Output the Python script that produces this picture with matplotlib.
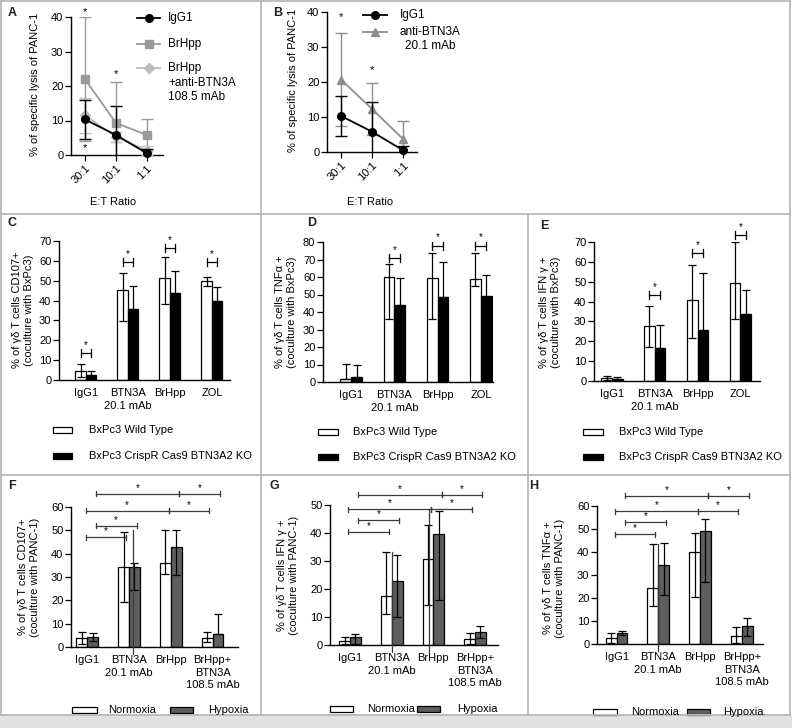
import numpy as np
import matplotlib
matplotlib.use('Agg')
import matplotlib.pyplot as plt
from matplotlib.lines import Line2D
from matplotlib.patches import Rectangle

plt.rcParams['font.family'] = ['Liberation Sans', 'DejaVu Sans']
plt.rcParams['font.size'] = 8
plt.rcParams['axes.linewidth'] = 1.0

# --- data: lysis of PANC-1 (panels A, B) ---
ratios = ['30:1', '10:1', '1:1']
igg1_lysis = [10.3, 5.8, 0.5]
igg1_lysis_sd = [5.7, 8.5, 1.2]
brhpp_lysis = [22.0, 9.3, 5.8]
brhpp_lysis_sd = [18.0, 11.8, 4.6]
brhpp_block_lysis = [11.5, 5.3, 1.3]
brhpp_block_lysis_sd = [5.0, 1.4, 1.3]
anti_btn3a_lysis = [20.7, 12.3, 3.7]
anti_btn3a_lysis_sd = [13.3, 7.3, 5.1]
stars_a = [(0, 41.5), (0, 2.0), (1, 23.5)]
stars_b = [(0, 38.5), (1, 23.5)]

# --- data: coculture with BxPc3 (panels C, D, E) ---
bxpc3_groups = ['IgG1', 'BTN3A\n20.1 mAb', 'BrHpp', 'ZOL']
cd107_wt = [4.5, 45.5, 51.5, 50.0]
cd107_wt_low = [1.5, 29.5, 38.5, 47.5]
cd107_wt_high = [8.0, 54.0, 62.0, 52.0]
cd107_ko = [2.5, 36.0, 44.0, 40.0]
cd107_ko_high = [4.7, 47.5, 54.7, 47.0]
cd107_sig = [13.5, 59.5, 66.5, 59.5]

tnf_wt = [1.5, 60.0, 59.5, 59.0]
tnf_wt_low = [1.5, 36.0, 36.0, 55.0]
tnf_wt_high = [10.3, 67.5, 73.5, 74.0]
tnf_ko = [2.8, 44.0, 48.5, 49.0]
tnf_ko_high = [9.8, 59.5, 68.5, 61.0]
tnf_sig = [None, 71.0, 78.0, 78.0]

ifn_wt = [1.5, 27.5, 41.0, 49.5]
ifn_wt_low = [0.5, 17.0, 21.5, 31.0]
ifn_wt_high = [2.5, 38.0, 58.5, 70.0]
ifn_ko = [1.2, 16.5, 25.5, 33.5]
ifn_ko_high = [2.0, 28.0, 54.5, 46.0]
ifn_sig = [None, 43.5, 64.5, 73.5]

# --- data: coculture with PANC-1, normoxia vs hypoxia (panels F, G, H) ---
panc_groups = ['IgG1', 'BTN3A\n20.1 mAb', 'BrHpp', 'BrHpp+\nBTN3A\n108.5 mAb']
f_norm = [4.0, 34.5, 35.8, 4.0]
f_norm_low = [1.5, 19.5, 31.5, 2.0]
f_norm_high = [6.3, 49.5, 50.0, 6.5]
f_hyp = [4.3, 34.5, 43.0, 5.5]
f_hyp_low = [2.5, 24.5, 31.0, 5.5]
f_hyp_high = [6.0, 36.0, 50.0, 14.3]
f_sig = [47.0, 52.0, 58.3, 58.3, 65.6, 65.6]
f_drops = [(1.1, 50.0)]

g_norm = [1.5, 17.5, 30.8, 2.0]
g_norm_low = [0.3, 11.0, 14.3, 0.5]
g_norm_high = [3.0, 33.3, 42.8, 4.3]
g_hyp = [2.8, 23.0, 39.5, 4.5]
g_hyp_low = [0.3, 10.0, 16.0, 2.5]
g_hyp_high = [4.0, 32.3, 48.0, 6.7]
g_sig = [40.5, 44.6, 48.5, 48.5, 53.6, 53.6]
g_drops = [(1.0, 33.3), (1.9, 48.5)]

h_norm = [2.5, 24.5, 40.0, 3.5]
h_norm_low = [0.5, 16.5, 20.5, 0.5]
h_norm_high = [4.8, 43.5, 48.2, 7.3]
h_hyp = [4.8, 34.5, 49.0, 7.8]
h_hyp_low = [4.0, 21.5, 27.0, 3.5]
h_hyp_high = [5.8, 43.7, 54.2, 11.5]
h_sig = [47.7, 52.9, 57.8, 57.8, 64.5, 64.5]
h_drops = [(1.0, 43.5)]

# bracket spans (group units) shared by F, G, H
bracket_spans = [(-0.04, 0.93), (0.2, 1.18), (-0.04, 1.95), (1.95, 2.92), (0.2, 2.2), (2.2, 3.17)]

W, H = 792, 728
fig = plt.figure(figsize=(W / 100, H / 100), dpi=100)


def fx(px):
    return px / W


def fy(py):
    return 1 - py / H


def px_axes(x0, x1, ytop, ybot):
    return fig.add_axes([fx(x0), fy(ybot), (x1 - x0) / W, (ybot - ytop) / H])


def style(ax, ymax, step):
    for s in ['top', 'right']:
        ax.spines[s].set_visible(False)
    ax.set_ylim(0, ymax)
    ax.set_yticks(np.arange(0, ymax + 1, step))
    ax.tick_params(axis='y', direction='out', length=4, width=0.9, pad=1.5, labelsize=8)
    ax.patch.set_alpha(0)


def ylab(x, y, text):
    fig.text(fx(x), fy(y), text, rotation=90, ha='center', va='center',
             multialignment='center', fontsize=8, linespacing=1.25)


# ---------------- frame lines ----------------
gray = '#b9b9b9'
fig.add_artist(Rectangle((0, 0), 1, 13 / H, transform=fig.transFigure,
                         facecolor='#e2e2e2', edgecolor='none'))
for xs, ys in [((0, 790), (1, 1)), ((0, 790), (214, 214)), ((0, 790), (475, 475)),
               ((0, 790), (715, 715)), ((1, 1), (0, 715)), ((789.5, 789.5), (0, 715)),
               ((261, 261), (0, 715)), ((528, 528), (214, 715))]:
    fig.add_artist(Line2D([fx(xs[0]), fx(xs[1])], [fy(ys[0]), fy(ys[1])],
                          transform=fig.transFigure, color=gray, lw=1.3))

for letter, x, y in [('A', 8, 13), ('B', 273, 13), ('C', 8, 223), ('D', 307, 223),
                     ('E', 540, 226), ('F', 8, 486), ('G', 270, 486), ('H', 529, 486)]:
    fig.text(fx(x), fy(y), letter, fontsize=9, fontweight='bold', va='center', ha='left',
             color='#222222')


# ---------------- line panels ----------------
def line_panel(ax, series, stars, xlim):
    x = np.arange(len(ratios))
    for mean, sd, color, marker, z in series:
        eb = ax.errorbar(x, mean, yerr=sd, color=color, marker=marker, ms=5.5, lw=1.3,
                         capsize=4, capthick=1.0, elinewidth=1.0, zorder=z)
        eb[0].set_clip_on(False)
    for xi, yi in stars:
        ax.text(xi, yi, '*', ha='center', va='center', fontsize=8, clip_on=False)
    ax.set_xlim(*xlim)
    style(ax, 40, 10)
    ax.set_xticks(x)
    ax.set_xticklabels(ratios, rotation=45, ha='right', rotation_mode='anchor')
    ax.tick_params(axis='x', direction='out', length=4, width=0.9, pad=2, labelsize=8)


def line_key(x0, x1, y, color, marker):
    fig.add_artist(Line2D([fx(x0), fx(x1)], [fy(y), fy(y)], transform=fig.transFigure,
                          color=color, lw=1.3))
    fig.add_artist(Line2D([fx((x0 + x1) / 2)], [fy(y)], transform=fig.transFigure,
                          color=color, marker=marker, ms=5.5))


axA = px_axes(71, 163, 17, 155)
line_panel(axA, [(brhpp_lysis, brhpp_lysis_sd, '#9a9a9a', 's', 2),
                 (brhpp_block_lysis, brhpp_block_lysis_sd, '#bdbdbd', 'D', 3),
                 (igg1_lysis, igg1_lysis_sd, 'black', 'o', 4)],
           stars_a, (-0.45, 2.52))
ylab(35, 84, '% of specific lysis of PANC-1')
fig.text(fx(113), fy(202), 'E:T Ratio', ha='center', va='center', fontsize=8)
line_key(137, 160, 18, 'black', 'o')
line_key(137, 160, 44, '#9a9a9a', 's')
line_key(137, 160, 68, '#bdbdbd', 'D')
fig.text(fx(168), fy(18), 'IgG1', va='center', fontsize=8.5)
fig.text(fx(168), fy(44), 'BrHpp', va='center', fontsize=8.5)
fig.text(fx(168), fy(62), 'BrHpp\n+anti-BTN3A\n108.5 mAb', va='top', fontsize=8.5,
         linespacing=1.3)

axB = px_axes(327, 417, 12, 152)
line_panel(axB, [(anti_btn3a_lysis, anti_btn3a_lysis_sd, '#8e8e8e', '^', 2),
                 (igg1_lysis, igg1_lysis_sd, 'black', 'o', 3)],
           stars_b, (-0.45, 2.45))
ylab(293, 80, '% of specific lysis of PANC-1')
fig.text(fx(370), fy(202), 'E:T Ratio', ha='center', va='center', fontsize=8)
line_key(363, 387, 15, 'black', 'o')
line_key(363, 387, 32, '#8e8e8e', '^')
fig.text(fx(400), fy(15), 'IgG1', va='center', fontsize=8.5)
fig.text(fx(400), fy(26), 'anti-BTN3A\n20.1 mAb', va='top', fontsize=8.5,
         multialignment='center', linespacing=1.2)


# ---------------- bar panels ----------------
def bar_panel(ax, groups, a, a_lo, a_hi, b, b_lo, b_hi, colors, width, xlim, ymax, step):
    x = np.arange(len(groups))
    xa, xb = x - width / 2, x + width / 2
    ax.bar(xa, a, width, color=colors[0], edgecolor='black', lw=0.9, zorder=2)
    ax.bar(xb, b, width, color=colors[1], edgecolor='black', lw=0.9, zorder=2)
    ax.errorbar(xa, a, yerr=[np.subtract(a, a_lo), np.subtract(a_hi, a)], fmt='none',
                ecolor='black', elinewidth=0.9, capsize=3.2, capthick=0.9, zorder=3)
    ax.errorbar(xb, b, yerr=[np.subtract(b, b_lo), np.subtract(b_hi, b)], fmt='none',
                ecolor='black', elinewidth=0.9, capsize=3.2, capthick=0.9, zorder=3)
    ax.set_xlim(*xlim)
    style(ax, ymax, step)
    ax.set_xticks(x)
    ax.set_xticklabels(groups)
    for t in ax.get_xticklabels():
        t.set_linespacing(1.3)
        t.set_verticalalignment('top')
    ax.tick_params(axis='x', length=0, pad=6, labelsize=8)
    return x


def h_marks(ax, x, heights, width, unit):
    for xi, h in zip(x, heights):
        if h is None:
            continue
        x0, x1 = xi - width / 2, xi + width / 2
        ax.plot([x0, x1], [h, h], color='black', lw=0.9, clip_on=False)
        for xe in (x0, x1):
            ax.plot([xe, xe], [h - 4 * unit, h + 4 * unit], color='black', lw=0.9,
                    clip_on=False)
        ax.text(xi, h + 3 * unit, '*', ha='center', va='bottom', fontsize=7, clip_on=False)


def box_key(x, y, w, h, color, text, tx):
    fig.add_artist(Rectangle((fx(x), fy(y + h / 2)), w / W, h / H, transform=fig.transFigure,
                             facecolor=color, edgecolor='black', lw=0.9))
    fig.text(fx(tx), fy(y), text, va='center', fontsize=8)


bw = 0.25
axC = px_axes(59, 230, 241, 380)
xc = bar_panel(axC, bxpc3_groups, cd107_wt, cd107_wt_low, cd107_wt_high,
               cd107_ko, cd107_ko, cd107_ko_high, ('white', 'black'), bw, (-0.64, 3.43), 70, 10)
h_marks(axC, xc, cd107_sig, bw, 70 / 139)
ylab(23, 310, '% of \u03b3\u03b4 T cells CD107+\n(coculture with BxPc3)')
box_key(53, 430, 19, 6, 'white', 'BxPc3 Wild Type', 89)
box_key(53, 456, 19, 6, 'black', 'BxPc3 CrispR Cas9 BTN3A2 KO', 89)

axD = px_axes(323, 493, 242, 382)
xd = bar_panel(axD, bxpc3_groups, tnf_wt, tnf_wt_low, tnf_wt_high,
               tnf_ko, tnf_ko, tnf_ko_high, ('white', 'black'), bw, (-0.65, 3.28), 80, 10)
h_marks(axD, xd, tnf_sig, bw, 80 / 140)
ylab(286, 312, '% of \u03b3\u03b4 T cells TNF\u03b1 +\n(coculture with BxPc3)')
box_key(318, 432, 20, 6, 'white', 'BxPc3 Wild Type', 353)
box_key(318, 457, 20, 6, 'black', 'BxPc3 CrispR Cas9 BTN3A2 KO', 353)

axE = px_axes(594, 760, 242, 381)
xe = bar_panel(axE, bxpc3_groups, ifn_wt, ifn_wt_low, ifn_wt_high,
               ifn_ko, ifn_ko, ifn_ko_high, ('white', 'black'), bw, (-0.42, 3.46), 70, 10)
h_marks(axE, xe, ifn_sig, bw, 70 / 139)
ylab(550, 312, '% of \u03b3\u03b4 T cells IFN \u03b3 +\n(coculture with BxPc3)')
box_key(583, 432, 20, 6, 'white', 'BxPc3 Wild Type', 619)
box_key(583, 457, 20, 6, 'black', 'BxPc3 CrispR Cas9 BTN3A2 KO', 619)


def brackets(ax, heights, drops, unit):
    for (x0, x1), h in zip(bracket_spans, heights):
        ax.plot([x0, x1], [h, h], color='#3a3a3a', lw=0.9, clip_on=False)
        for xe in (x0, x1):
            ax.plot([xe, xe], [h - 2.5 * unit, h + 2.5 * unit], color='#3a3a3a', lw=0.9,
                    clip_on=False)
        ax.text((x0 + x1) / 2, h + 1.0 * unit, '*', ha='center', va='bottom', fontsize=7,
                clip_on=False)
    for xd_, top in drops:
        ax.plot([xd_, xd_], [top, -7 * unit], color='#3a3a3a', lw=0.9, clip_on=False,
                zorder=4)


hw = 0.26
hyp_colors = ('white', '#5e5e5e')
axF = px_axes(71, 238, 507, 647)
xf = bar_panel(axF, panc_groups, f_norm, f_norm_low, f_norm_high,
               f_hyp, f_hyp_low, f_hyp_high, hyp_colors, hw, (-0.39, 3.61), 60, 10)
brackets(axF, f_sig, f_drops, 60 / 140)
ylab(29, 577, '% of \u03b3\u03b4 T cells CD107+\n(coculture with PANC-1)')
box_key(72, 710, 25, 6, 'white', 'Normoxia', 108)
box_key(170, 710, 23, 6, hyp_colors[1], 'Hypoxia', 208)

axG = px_axes(330, 498, 505, 645)
xg = bar_panel(axG, panc_groups, g_norm, g_norm_low, g_norm_high,
               g_hyp, g_hyp_low, g_hyp_high, hyp_colors, hw, (-0.48, 3.55), 50, 10)
brackets(axG, g_sig, g_drops, 50 / 140)
ylab(288, 575, '% of \u03b3\u03b4 T cells IFN \u03b3 +\n(coculture with PANC-1)')
box_key(330, 709, 23, 6, 'white', 'Normoxia', 367)
box_key(417, 709, 23, 6, hyp_colors[1], 'Hypoxia', 457)

axH = px_axes(597, 763, 506, 644)
xh = bar_panel(axH, panc_groups, h_norm, h_norm_low, h_norm_high,
               h_hyp, h_hyp_low, h_hyp_high, hyp_colors, hw, (-0.47, 3.51), 60, 10)
brackets(axH, h_sig, h_drops, 60 / 138)
ylab(554, 578, '% of \u03b3\u03b4 T cells TNF\u03b1 +\n(coculture with PANC-1)')
box_key(593, 712, 24, 6, 'white', 'Normoxia', 631)
box_key(687, 712, 23, 6, hyp_colors[1], 'Hypoxia', 723)

fig.savefig('out.png', dpi=100)
